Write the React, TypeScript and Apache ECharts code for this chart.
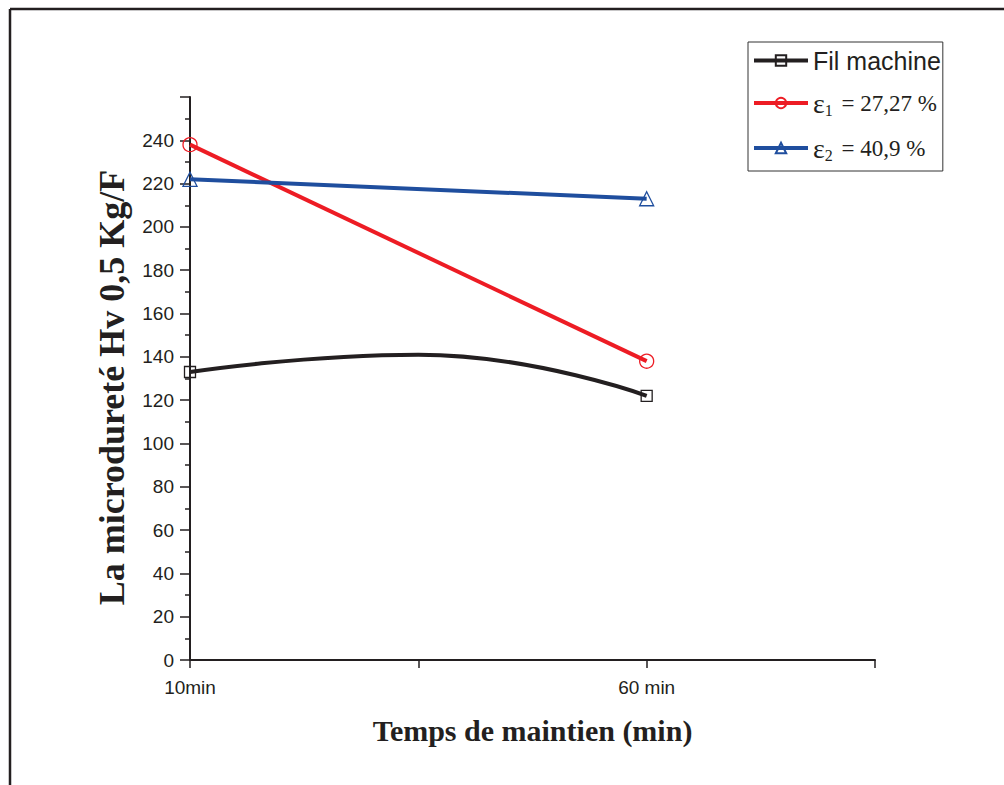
import React, { useEffect, useRef } from "react";
import * as echarts from "echarts";

const xTickLabels: Record<number, string> = { 0: "10min", 2: "60 min" };
const filMachine: [number, number][] = [[0, 133], [1, 141], [2, 122]];
const eps1: [number, number][] = [[0, 238], [2, 138]];
const eps2: [number, number][] = [[0, 222], [2, 213]];
const seriesNames = ["Fil machine", "ε1 = 27,27 %", "ε2 = 40,9 %"];

const INK = "#231f20";
const RED = "#ed1c24";
const BLUE = "#1f4e9e";

export default function App() {
  const ref = useRef<HTMLDivElement>(null);
  useEffect(() => {
    if (!ref.current) return;
    const chart = echarts.init(ref.current, undefined, { renderer: "svg" });
    const sym = (c: string) => ({ color: "rgba(255,255,255,0)", borderColor: c, borderWidth: 1.3 });
    chart.setOption({
      animation: false,
      backgroundColor: "#ffffff",
      grid: { left: 190, right: 129, top: 97, bottom: 125 },
      graphic: [
        { type: "line", shape: { x1: 10, y1: 9, x2: 1004, y2: 9 }, style: { stroke: INK, lineWidth: 2.5 } },
        { type: "line", shape: { x1: 10, y1: 9, x2: 10, y2: 785 }, style: { stroke: INK, lineWidth: 2.5 } },
      ],
      legend: {
        orient: "vertical",
        left: 748,
        top: 42,
        padding: [6, 2, 8, 4],
        itemGap: 13,
        itemWidth: 54,
        itemHeight: 13,
        borderColor: "#333",
        borderWidth: 1,
        lineStyle: { width: 4 },
        data: seriesNames,
        formatter: (name: string) => {
          if (name === seriesNames[0]) return "{a|Fil machine}";
          if (name === seriesNames[1]) return "{e|ε}{s|1}{t| = 27,27 %}";
          return "{e|ε}{s|2}{t| = 40,9 %}";
        },
        textStyle: {
          color: INK,
          rich: {
            a: { fontFamily: "Liberation Sans", fontSize: 25, color: INK, lineHeight: 30 },
            e: { fontFamily: "Liberation Serif", fontSize: 28, color: INK, lineHeight: 30 },
            s: { fontFamily: "Liberation Serif", fontSize: 16, color: INK, lineHeight: 12, verticalAlign: "bottom", padding: [16, 3, 0, 0] },
            t: { fontFamily: "Liberation Serif", fontSize: 23, color: INK, lineHeight: 30 },
          },
        },
      },
      xAxis: {
        type: "value",
        min: 0,
        max: 3,
        interval: 1,
        name: "Temps de maintien (min)",
        nameLocation: "middle",
        nameGap: 55,
        nameTextStyle: { fontFamily: "Liberation Serif", fontWeight: "bold", fontSize: 30, color: INK },
        axisLine: { lineStyle: { color: INK, width: 2 } },
        axisTick: { show: true, inside: false, length: 8, lineStyle: { color: INK, width: 1.5 } },
        splitLine: { show: false },
        axisLabel: {
          margin: 18,
          fontFamily: "Liberation Sans",
          fontSize: 19,
          color: INK,
          formatter: (v: number) => xTickLabels[v] ?? "",
        },
      },
      yAxis: {
        type: "value",
        min: 0,
        max: 260,
        interval: 20,
        name: "La microdureté Hv 0,5 Kg/F",
        nameLocation: "middle",
        nameGap: 60,
        nameTextStyle: { fontFamily: "Liberation Serif", fontWeight: "bold", fontSize: 36, color: INK, padding: [0, 18, 0, 0] },
        axisLine: { show: true, lineStyle: { color: INK, width: 2 } },
        axisTick: { show: true, inside: false, length: 10, lineStyle: { color: INK, width: 1.5 } },
        minorTick: { show: true, splitNumber: 2, length: 5, lineStyle: { color: INK, width: 1.5 } },
        splitLine: { show: false },
        axisLabel: {
          margin: 16,
          fontFamily: "Liberation Sans",
          fontSize: 19,
          color: INK,
          formatter: (v: number) => (v >= 260 ? "" : String(v)),
        },
      },
      series: [
        {
          name: seriesNames[0],
          type: "line",
          smooth: true,
          data: filMachine.map((d, i) => (i === 1 ? { value: d, symbol: "none" } : { value: d })),
          symbol: "rect",
          symbolSize: 11,
          itemStyle: sym(INK),
          lineStyle: { color: INK, width: 4 },
        },
        {
          name: seriesNames[1],
          type: "line",
          data: eps1,
          symbol: "circle",
          symbolSize: 14,
          itemStyle: sym(RED),
          lineStyle: { color: RED, width: 4 },
        },
        {
          name: seriesNames[2],
          type: "line",
          data: eps2,
          symbol: "triangle",
          symbolSize: 14,
          itemStyle: sym(BLUE),
          lineStyle: { color: BLUE, width: 4 },
        },
      ],
    });
    return () => chart.dispose();
  }, []);
  return <div ref={ref} style={{ position: "absolute", left: 0, top: 0, width: 1004, height: 785 }} />;
}
